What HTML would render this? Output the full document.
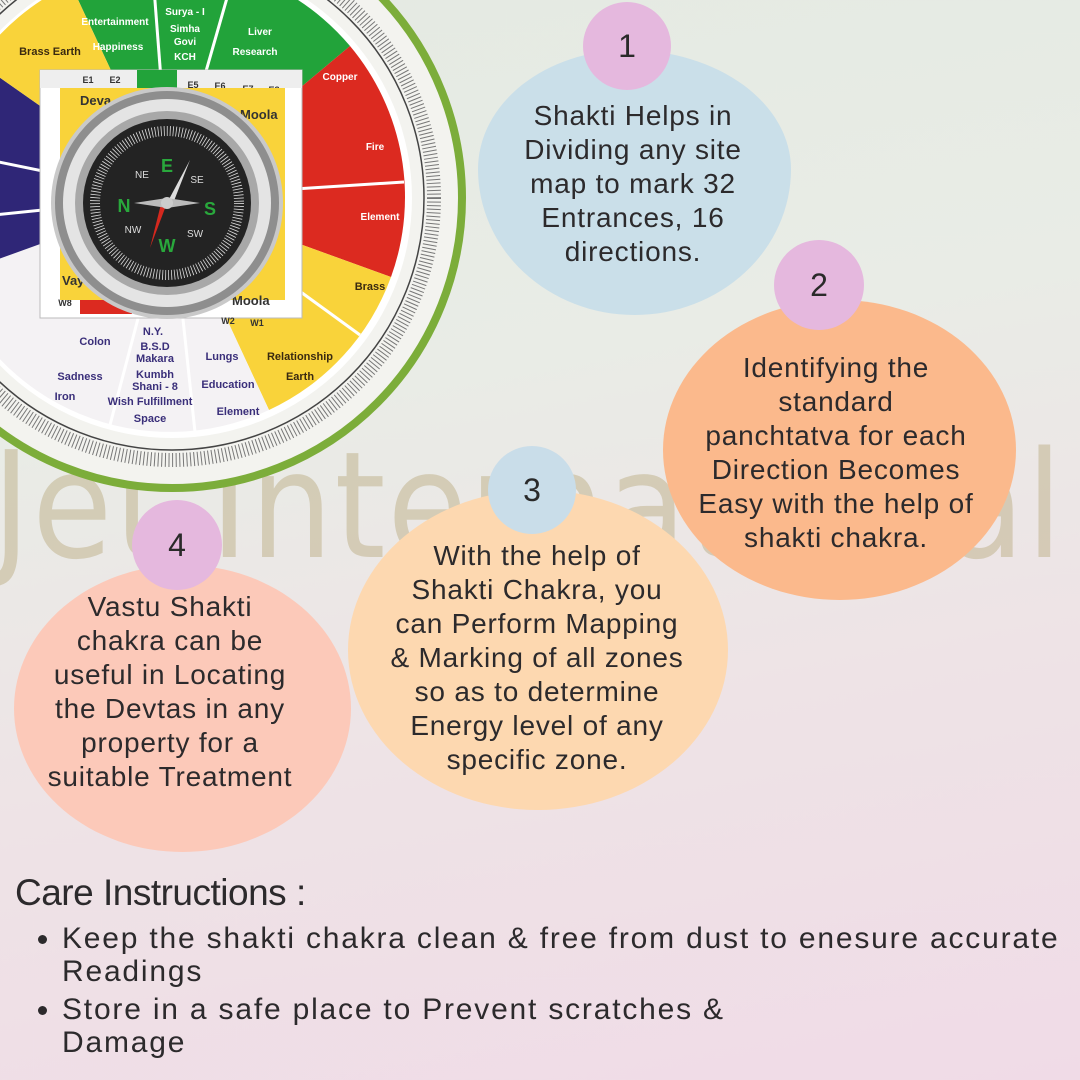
<!DOCTYPE html>
<html><head><meta charset="utf-8"><style>
html,body{margin:0;padding:0}
body{width:1080px;height:1080px;overflow:hidden;position:relative;font-family:"Liberation Sans",sans-serif;color:#2c2a2c;
background:linear-gradient(170deg,#e4eae2 0%,#e9ece6 35%,#eee3e6 65%,#f0dbe7 100%);}
.wm{position:absolute;left:-8px;top:420px;font-size:148px;color:rgba(185,168,125,0.45);letter-spacing:2px;white-space:nowrap;font-family:"DejaVu Sans","Liberation Sans",sans-serif;transform:scaleX(0.88);transform-origin:left top}
.blob{position:absolute;border-radius:50%}
.num{position:absolute;border-radius:50%;text-align:center;font-size:32px;color:#2a2a2a}
.t{position:absolute;text-align:center;font-size:28px;line-height:34px;letter-spacing:0.8px;color:#2c2a2c}
h2{position:absolute;left:15px;top:872px;margin:0;font-weight:normal;font-size:37px;letter-spacing:-0.5px}
ul{position:absolute;left:30px;top:922px;margin:0;padding:0 0 0 32px;font-size:30px;line-height:33px;width:1040px;letter-spacing:1.8px}
li{margin-bottom:5px}
</style></head><body>
<div class="wm">Jet International</div>

<svg style="position:absolute;left:0;top:0" width="480" height="500" viewBox="0 0 480 500">
 <circle cx="172" cy="198" r="290" fill="#f3f3ef" stroke="#7cad3a" stroke-width="8"/>
 <circle cx="172" cy="198" r="262" fill="none" stroke="#777" stroke-width="14" stroke-dasharray="1 2.6"/>
 <circle cx="172" cy="198" r="252" fill="none" stroke="#444" stroke-width="1.5"/>
 <circle cx="172" cy="198" r="240" fill="#fff"/>
 <path d="M170 197 L70.7 -16 A235 235 0 0 1 350 46 Z" fill="#22a33a"/>
 <path d="M170 197 L350 46 A235 235 0 0 1 391 277 Z" fill="#dc2a20"/>
 <path d="M170 197 L391 277 A235 235 0 0 1 269 410 Z" fill="#f9d33a"/>
 <path d="M170 197 L269 410 A235 235 0 0 1 -51 277 Z" fill="#f4f2f4"/>
 <path d="M170 197 L-51 277 A235 235 0 0 1 -22.5 62 Z" fill="#2f2677"/>
 <path d="M170 197 L-22.5 62 A235 235 0 0 1 70.7 -16 Z" fill="#f9d33a"/>
 <g stroke="#fff" stroke-width="3">
  <line x1="170" y1="197" x2="152" y2="-38"/><line x1="170" y1="197" x2="235" y2="-30"/>
  <line x1="170" y1="197" x2="404" y2="182"/><line x1="170" y1="197" x2="360" y2="335"/>
  <line x1="170" y1="197" x2="195" y2="432"/><line x1="170" y1="197" x2="110" y2="425"/>
  <line x1="170" y1="197" x2="-60" y2="150"/><line x1="170" y1="197" x2="-55" y2="220"/>
 </g>
 <g font-size="10" font-weight="bold" fill="#fff" text-anchor="middle">
  <text x="115" y="25">Entertainment</text><text x="118" y="50">Happiness</text>
  <text x="185" y="15">Surya - I</text><text x="185" y="32">Simha</text><text x="185" y="45">Govi</text><text x="185" y="60">KCH</text>
  <text x="260" y="35">Liver</text><text x="255" y="55">Research</text>
  <text x="340" y="80">Copper</text><text x="375" y="150">Fire</text><text x="380" y="220">Element</text>
 </g>
 <g font-size="11" font-weight="bold" fill="#3a2f7a" text-anchor="middle">
  <text x="95" y="345">Colon</text><text x="80" y="380">Sadness</text><text x="65" y="400">Iron</text>
  <text x="153" y="335">N.Y.</text><text x="155" y="350">B.S.D</text><text x="155" y="362">Makara</text><text x="155" y="378">Kumbh</text><text x="155" y="390">Shani - 8</text><text x="150" y="405">Wish Fulfillment</text><text x="150" y="422">Space</text>
  <text x="222" y="360">Lungs</text><text x="228" y="388">Education</text><text x="238" y="415">Element</text>
 </g>
 <g font-size="11" font-weight="bold" fill="#3a2a10" text-anchor="middle">
  <text x="50" y="55">Brass Earth</text><text x="370" y="290">Brass</text><text x="300" y="380">Earth</text><text x="300" y="360">Relationship</text>
 </g>
 <rect x="40" y="70" width="262" height="248" fill="#fff" stroke="#bbb"/>
 <rect x="40" y="70" width="262" height="18" fill="#eee"/>
 <g font-size="9" font-weight="bold" fill="#333" text-anchor="middle">
  <text x="88" y="83">E1</text><text x="115" y="83">E2</text><text x="193" y="88">E5</text><text x="220" y="89">E6</text><text x="248" y="92">E7</text><text x="274" y="93">E8</text>
  <text x="228" y="324">W2</text><text x="257" y="326">W1</text><text x="65" y="306">W8</text>
 </g>
 <rect x="137" y="70" width="40" height="18" fill="#22a33a"/>
 <rect x="80" y="296" width="52" height="18" fill="#dc2a20"/>
 <rect x="60" y="88" width="225" height="212" fill="#f9d33a"/>
 <text x="80" y="105" font-size="13" font-weight="bold" fill="#333">Deva</text>
 <text x="240" y="119" font-size="13" font-weight="bold" fill="#333">Moola</text>
 <text x="232" y="305" font-size="13" font-weight="bold" fill="#333">Moola</text>
 <text x="62" y="285" font-size="13" font-weight="bold" fill="#333">Vay</text>
 <circle cx="167" cy="203" r="116" fill="#c9c9c9"/>
 <circle cx="167" cy="203" r="112" fill="#8e8e8e"/>
 <circle cx="167" cy="203" r="104" fill="#e4e4e4"/>
 <circle cx="167" cy="203" r="92" fill="#a8a8a8"/>
 <circle cx="167" cy="203" r="84" fill="#232323"/>
 <circle cx="167" cy="203" r="72" fill="none" stroke="#ddd" stroke-width="10" stroke-dasharray="0.8 2.2"/>
 <g font-size="18" font-weight="bold" fill="#29a83c" text-anchor="middle">
  <text x="167" y="172">E</text><text x="210" y="215">S</text><text x="167" y="252">W</text><text x="124" y="212">N</text>
 </g>
 <g font-size="10" fill="#ddd" text-anchor="middle">
  <text x="142" y="178">NE</text><text x="197" y="183">SE</text><text x="195" y="237">SW</text><text x="133" y="233">NW</text>
 </g>
 <polygon points="167,203 190,160 172,206" fill="#ddd"/>
 <polygon points="167,203 150,248 162,200" fill="#d4281e"/>
 <polygon points="167,198 200,203 167,208 134,203" fill="#bbb"/>
 <circle cx="167" cy="203" r="6" fill="#ccc"/>
</svg>

<div class="blob" style="left:478px;top:50px;width:313px;height:265px;background:#cadfe9;border-radius:48% 52% 50% 50%/45% 45% 55% 55%"></div>
<div class="blob" style="left:663px;top:300px;width:353px;height:300px;background:#fbb98c"></div>
<div class="blob" style="left:348px;top:490px;width:380px;height:320px;background:#fdd8b0"></div>
<div class="blob" style="left:14px;top:565px;width:337px;height:287px;background:#fcc9b9"></div>

<div class="num" style="left:583px;top:2px;width:88px;height:88px;line-height:88px;background:#e5b8de">1</div>
<div class="num" style="left:774px;top:240px;width:90px;height:90px;line-height:90px;background:#e5b8de">2</div>
<div class="num" style="left:488px;top:446px;width:88px;height:88px;line-height:88px;background:#c9dde9">3</div>
<div class="num" style="left:132px;top:500px;width:90px;height:90px;line-height:90px;background:#e5b8de">4</div>

<div class="t" style="left:468px;top:99px;width:330px">Shakti Helps in<br>Dividing any site<br>map to mark 32<br>Entrances, 16<br>directions.</div>
<div class="t" style="left:653px;top:351px;width:366px">Identifying the<br>standard<br>panchtatva for each<br>Direction Becomes<br>Easy with the help of<br>shakti chakra.</div>
<div class="t" style="left:338px;top:539px;width:398px">With the help of<br>Shakti Chakra, you<br>can Perform Mapping<br>&amp; Marking of all zones<br>so as to determine<br>Energy level of any<br>specific zone.</div>
<div class="t" style="left:-10px;top:590px;width:360px">Vastu Shakti<br>chakra can be<br>useful in Locating<br>the Devtas in any<br>property for a<br>suitable Treatment</div>

<h2>Care Instructions :</h2>
<ul>
<li>Keep the shakti chakra clean &amp; free from dust to enesure accurate<br>Readings</li>
<li>Store in a safe place to Prevent scratches &amp;<br>Damage</li>
</ul>
</body></html>
